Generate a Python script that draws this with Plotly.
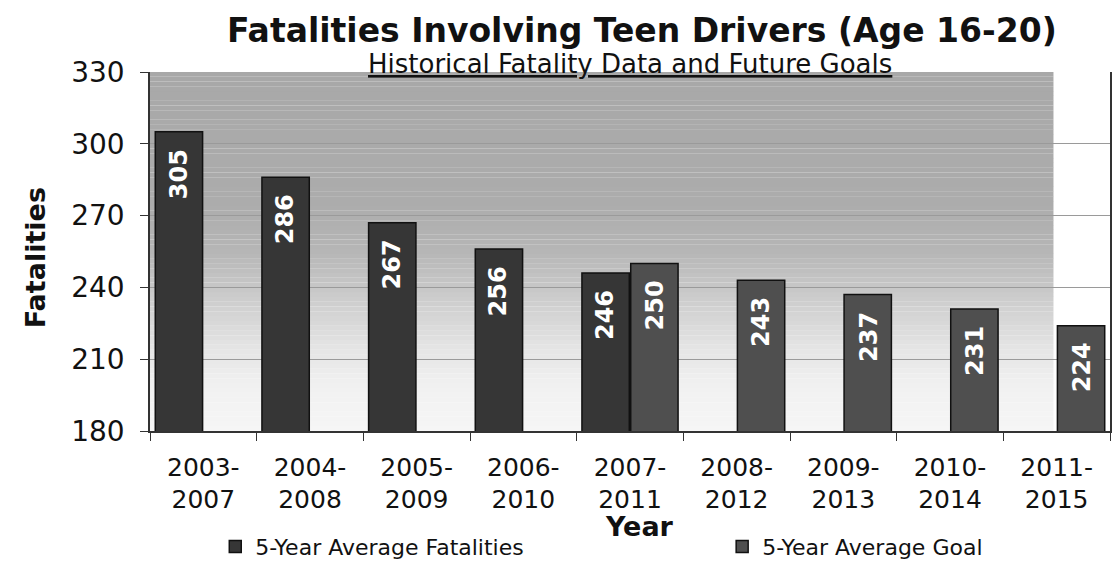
import plotly.graph_objects as go

# Five-year windows
periods = ["2003-<br>2007", "2004-<br>2008", "2005-<br>2009", "2006-<br>2010", "2007-<br>2011",
           "2008-<br>2012", "2009-<br>2013", "2010-<br>2014", "2011-<br>2015"]
# 5-year average fatalities (historical) and goals (targets)
avg_fatalities = [305, 286, 267, 256, 246, None, None, None, None]
avg_goal = [None, None, None, None, 250, 243, 237, 231, 224]

FONT = "DejaVu Sans"
Y_MIN, Y_MAX = 180, 330

fig = go.Figure()
fig.add_trace(go.Bar(
    x=periods, y=avg_fatalities, name="5-Year Average Fatalities", legend="legend",
    marker=dict(color="#363636", line=dict(color="#111111", width=1.5)),
))
fig.add_trace(go.Bar(
    x=periods, y=avg_goal, name="5-Year Average Goal", legend="legend2",
    marker=dict(color="#4f4f4f", line=dict(color="#111111", width=1.5)),
))

# value labels, rotated, near the top of each bar
for series, shift in ((avg_fatalities, -25), (avg_goal, 25)):
    for cat, v in zip(periods, series):
        if v is None:
            continue
        fig.add_annotation(
            x=cat, y=v, xref="x", yref="y", text=f"<b>{v}</b>", showarrow=False,
            textangle=-90, xanchor="center", yanchor="middle",
            xshift=shift, yshift=-42,
            font=dict(family=FONT, size=24, color="white"),
        )

# shaded backdrop: vertical grey gradient over the historical span
stops = [(330, 168), (275, 172), (255, 182), (235, 205), (215, 228), (200, 240), (180, 246)]
n_bands = 75
step = (Y_MAX - Y_MIN) / n_bands
for k in range(n_bands):
    y0 = Y_MIN + k * step
    ym = y0 + step / 2
    for (ya, ga), (yb, gb) in zip(stops[:-1], stops[1:]):
        if yb <= ym <= ya:
            g = int(round(gb + (ga - gb) * (ym - yb) / (ya - yb)))
            break
    fig.add_shape(type="rect", xref="x", yref="y", x0=-0.5, x1=7.97,
                  y0=y0, y1=y0 + step + 0.05, line=dict(width=0),
                  fillcolor=f"rgb({g},{g},{g})", layer="below")

legend_style = dict(orientation="h", xanchor="left", y=-0.322, yanchor="middle",
                    font=dict(family=FONT, size=22, color="#111111"),
                    itemwidth=30, bgcolor="rgba(0,0,0,0)")

fig.update_layout(
    width=1112, height=568,
    margin=dict(l=150, r=0, t=72, b=134),
    paper_bgcolor="white", plot_bgcolor="white",
    barmode="group", bargap=0.085, bargroupgap=0.03,
    font=dict(family=FONT, color="#111111"),
    showlegend=True,
    legend=dict(x=0.068, **legend_style),
    legend2=dict(x=0.596, **legend_style),
)

fig.update_yaxes(
    range=[Y_MIN, Y_MAX], tickvals=[180, 210, 240, 270, 300, 330],
    tickfont=dict(family=FONT, size=28, color="#111111"),
    ticks="outside", ticklen=8, tickcolor="#333333", ticklabelstandoff=10,
    showline=True, linecolor="#333333", linewidth=1.5, mirror=True,
    showgrid=True, gridcolor="#9a9a9a", gridwidth=1, zeroline=False,
)
fig.update_xaxes(
    tickfont=dict(family=FONT, size=25, color="#111111"),
    ticks="outside", ticklen=8, tickcolor="#333333", tickson="boundaries",
    ticklabelstandoff=13,
    showline=True, linecolor="#333333", linewidth=1.5,
    showgrid=False,
)

# titles
fig.add_annotation(text="<b>Fatalities Involving Teen Drivers (Age 16-20)</b>",
                   xref="paper", yref="paper", x=0.5, y=1.116, xanchor="center", yanchor="middle",
                   showarrow=False, font=dict(family=FONT, size=33, color="#111111"), xshift=12)
fig.add_annotation(text="<u>Historical Fatality Data and Future Goals</u>",
                   xref="paper", yref="paper", x=0.5, y=1.022, xanchor="center", yanchor="middle",
                   showarrow=False, font=dict(family=FONT, size=26, color="#111111"))
fig.add_annotation(text="<b>Fatalities</b>", xref="paper", yref="paper",
                   x=-0.119, y=0.5, xanchor="center", yanchor="middle", textangle=-90,
                   yshift=-6,
                   showarrow=False, font=dict(family=FONT, size=27, color="#111111"))
fig.add_annotation(text="<b>Year</b>", xref="paper", yref="paper",
                   x=0.5, y=-0.267, xanchor="center", yanchor="middle", xshift=9,
                   showarrow=False, font=dict(family=FONT, size=27, color="#111111"))

fig.write_html("out.html")
